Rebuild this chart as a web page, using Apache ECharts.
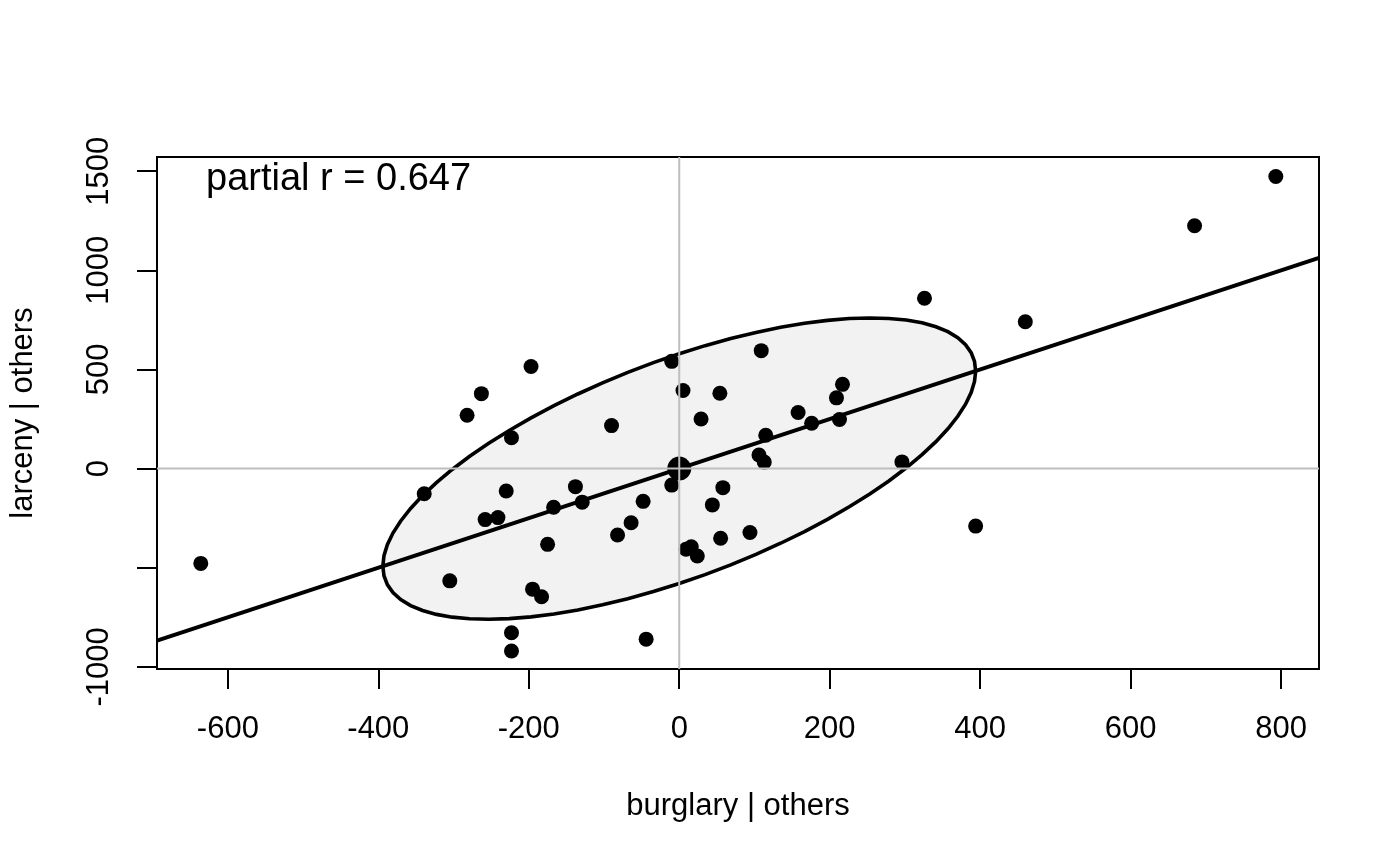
<!DOCTYPE html>
<html>
<head>
<meta charset="utf-8">
<title>burglary | others</title>
<script src="https://cdn.jsdelivr.net/npm/echarts@6/dist/echarts.min.js"></script>
<style>
  html, body { margin: 0; padding: 0; background: #ffffff; }
  #chart { width: 1400px; height: 866px; }
</style>
</head>
<body>
<div id="chart"></div>
<script>
// residuals
var burglaryResid = [
	-636, -197, -263, -282, -223, -90, -10, 5, 29,
	-339, -230, -138, -167, -129, -48, -10, -258, -241, -64, -82,
	-175, -305, -195, -183, -223, -223, -44, 44,
	54, 109, 158, 176, 213, 209, 217, 115, 106, 113, 296, 58, 94, 55,
	9, 16, 24, 326, 460, 394, 685, 793
];
var larcenyResid = [
	-478, 515, 378, 269, 156, 217, 541, 394, 250,
	-127, -113, -91, -195, -169, -165, -83, -257, -247, -273, -335,
	-382, -566, -608, -646, -828, -920, -860, -183,
	380, 595, 283, 229, 248, 357, 425, 168, 69, 33, 34, -96, -322, -351,
	-407, -394, -441, 859, 741, -290, 1225, 1473
];

var xTicks = [-600, -400, -200, 0, 200, 400, 600, 800];
var yTicks = [-1000, -500, 0, 500, 1000, 1500];
var yTickLabels = [-1000, 0, 500, 1000, 1500];

var partialR = 0.647;
var fitSlope = 1.25;
// data ellipse: half extents along x and y
var ellipseHalfX = 394;
var ellipseHalfY = 760;

var xMin = -694.2, xMax = 850.4;
var yMin = -1010.6, yMax = 1571.6;

var FONT = '"Liberation Sans", Arial, Helvetica, sans-serif';

var points = burglaryResid.map(function(x, i) { return [x, larcenyResid[i]]; });

// ellipse outline
var ellipsePts = [];
var nSeg = 72;
for (var k = 0; k <= nSeg; k++) {
	var t = 2 * Math.PI * k / nSeg;
	ellipsePts.push([
		ellipseHalfX * Math.cos(t),
		ellipseHalfY * (partialR * Math.cos(t) + Math.sqrt(1 - partialR * partialR) * Math.sin(t))
	]);
}

var plainNum = function(v) { return String(v); };

var chart = echarts.init(document.getElementById('chart'), null, { renderer: 'canvas' });

var option = {
	animation: false,
	backgroundColor: '#ffffff',
	grid: {
		left: 157, top: 157, right: 81, bottom: 197,
		show: true, borderColor: '#000000', borderWidth: 2,
		backgroundColor: 'transparent'
	},
	xAxis: {
		type: 'value', min: xMin, max: xMax,
		splitLine: { show: false },
		axisLine: { show: false, onZero: false },
		axisTick: { show: true, length: 20, lineStyle: { color: '#000', width: 2 }, customValues: xTicks },
		axisLabel: { customValues: xTicks, formatter: plainNum, fontSize: 31, color: '#000', margin: 45, fontFamily: FONT },
		name: 'burglary | others',
		nameLocation: 'middle',
		nameGap: 122,
		nameTextStyle: { fontSize: 31, color: '#000', fontFamily: FONT }
	},
	yAxis: {
		type: 'value', min: yMin, max: yMax,
		splitLine: { show: false },
		axisLine: { show: false, onZero: false },
		axisTick: { show: true, length: 20, lineStyle: { color: '#000', width: 2 }, customValues: yTicks },
		axisLabel: { customValues: yTickLabels, formatter: plainNum, fontSize: 31, color: '#000', margin: 42, rotate: 90, fontFamily: FONT },
		name: 'larceny | others',
		nameLocation: 'middle',
		nameGap: 118,
		nameTextStyle: { fontSize: 31, color: '#000', fontFamily: FONT }
	},
	graphic: [{
		type: 'text',
		left: 206, top: 161,
		style: { text: 'partial r = ' + partialR, font: '38px ' + FONT, fill: '#000' },
		z: 100
	}],
	series: [
		{
			type: 'custom',
			z: 1,
			clip: true,
			data: [0],
			renderItem: function(params, api) {
				return {
					type: 'polygon',
					shape: { points: ellipsePts.map(function(p) { return api.coord(p); }) },
					style: { fill: '#f2f2f2', stroke: '#000', lineWidth: 3.6 }
				};
			}
		},
		{
			type: 'line', z: 2, showSymbol: false, silent: true,
			data: [[xMin, fitSlope * xMin], [xMax, fitSlope * xMax]],
			lineStyle: { color: '#000', width: 4 }
		},
		{
			type: 'scatter', z: 3, symbolSize: 15,
			itemStyle: { color: '#000', opacity: 1 },
			data: points
		},
		{
			type: 'scatter', z: 3, symbolSize: 24,
			itemStyle: { color: '#000', opacity: 1 },
			data: [[0, 0]]
		},
		{
			type: 'line', z: 4, showSymbol: false, silent: true,
			data: [[0, yMin], [0, yMax]],
			lineStyle: { color: '#bebebe', width: 2 }
		},
		{
			type: 'line', z: 4, showSymbol: false, silent: true,
			data: [[xMin, 0], [xMax, 0]],
			lineStyle: { color: '#bebebe', width: 2 }
		}
	]
};

chart.setOption(option);
</script>
</body>
</html>
